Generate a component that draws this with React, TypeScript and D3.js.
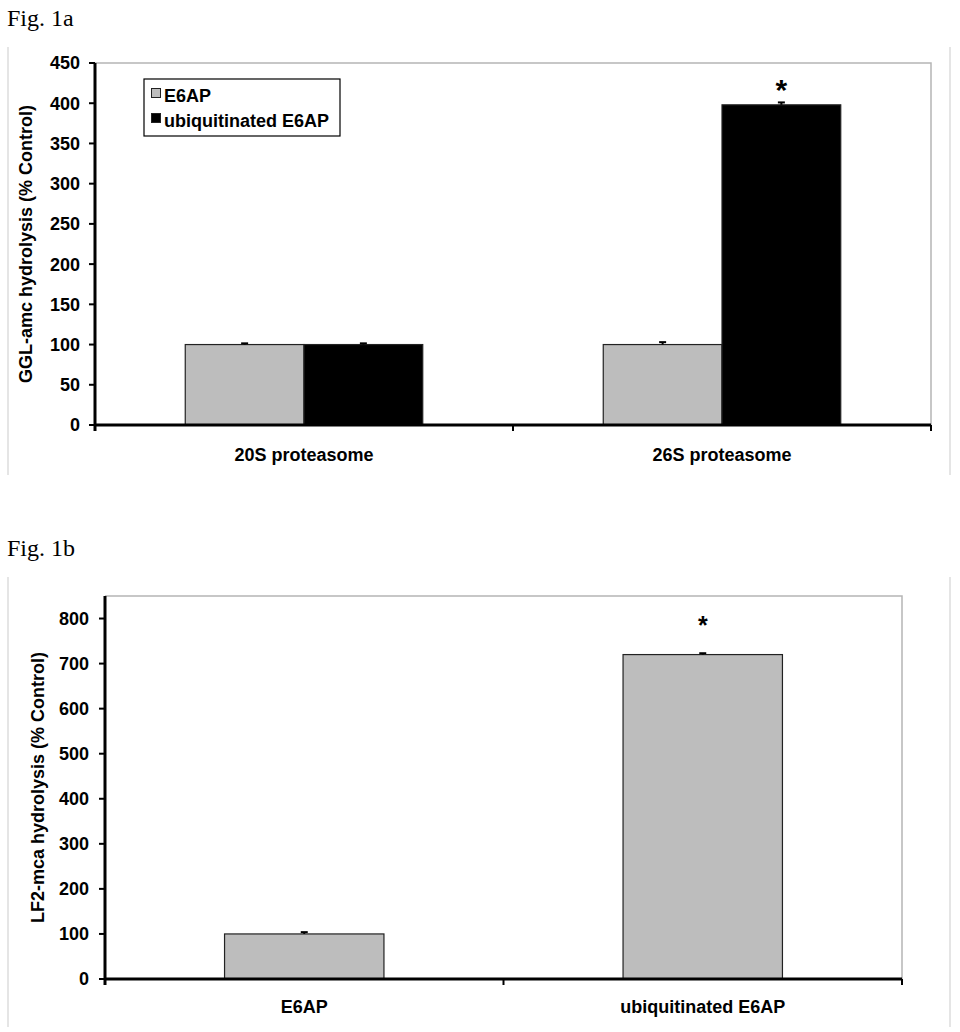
import { useEffect, useRef } from 'react';
import * as d3 from 'd3';

// Fig. 1a data
const categoriesA = ['20S proteasome', '26S proteasome'];
const seriesA = ['E6AP', 'ubiquitinated E6AP'];
const e6apValuesA = [100, 100];
const e6apErrorsA = [1.5, 3];
const ubValuesA = [100, 398];
const ubErrorsA = [1.5, 3];
const ubSignificantA = [false, true];
const yTicksA = [0, 50, 100, 150, 200, 250, 300, 350, 400, 450];

// Fig. 1b data
const categoriesB = ['E6AP', 'ubiquitinated E6AP'];
const valuesB = [100, 720];
const errorsB = [4, 3];
const significantB = [false, true];
const yTicksB = [0, 100, 200, 300, 400, 500, 600, 700, 800];

const GREY = '#bdbdbd';
const FONT = "'Liberation Sans', Arial, sans-serif";

function App() {
  const svgRef = useRef(null);

  useEffect(() => {
    const svg = d3.select(svgRef.current);
    svg.selectAll('*').remove();

    const drawFrame = (title, titleY, frameTop, frameBottom) => {
      svg.append('text')
        .attr('x', 7)
        .attr('y', titleY)
        .attr('font-family', "'Liberation Serif', 'Times New Roman', serif")
        .attr('font-size', '24px')
        .attr('fill', '#000')
        .text(title);
      [8, 950].forEach(x => {
        svg.append('line')
          .attr('x1', x).attr('x2', x)
          .attr('y1', frameTop).attr('y2', frameBottom)
          .attr('stroke', '#d4d4d4')
          .attr('stroke-width', 1.2);
      });
    };

    const drawAxes = (g, x0, x1, y, yTop, ticks, yLabel, yLabelX, tickLabelX) => {
      const base = y(0);
      // plot area border (top + right)
      g.append('path')
        .attr('d', `M${x0},${yTop}H${x1}V${base}`)
        .attr('fill', 'none')
        .attr('stroke', '#b5b5b5')
        .attr('stroke-width', 1.5);

      ticks.forEach(t => {
        g.append('line')
          .attr('x1', x0 - 6).attr('x2', x0)
          .attr('y1', y(t)).attr('y2', y(t))
          .attr('stroke', '#000').attr('stroke-width', 2);
        g.append('text')
          .attr('x', tickLabelX)
          .attr('y', y(t))
          .attr('dy', '0.36em')
          .attr('text-anchor', 'end')
          .attr('font-family', FONT)
          .attr('font-weight', 'bold')
          .attr('font-size', '18px')
          .text(t);
      });

      g.append('text')
        .attr('transform', `translate(${yLabelX},${(yTop + base) / 2}) rotate(-90)`)
        .attr('text-anchor', 'middle')
        .attr('dy', '0.36em')
        .attr('font-family', FONT)
        .attr('font-weight', 'bold')
        .attr('font-size', '18px')
        .text(yLabel);

      return base;
    };

    const drawXAxis = (g, bounds, centers, labels, x0, x1, base, labelY) => {
      g.append('line')
        .attr('x1', x0).attr('x2', x1)
        .attr('y1', base).attr('y2', base)
        .attr('stroke', '#000').attr('stroke-width', 3);
      bounds.forEach(bx => {
        g.append('line')
          .attr('x1', bx).attr('x2', bx)
          .attr('y1', base).attr('y2', base + 6)
          .attr('stroke', '#000').attr('stroke-width', 2);
      });
      labels.forEach((c, i) => {
        g.append('text')
          .attr('x', centers[i])
          .attr('y', labelY)
          .attr('text-anchor', 'middle')
          .attr('font-family', FONT)
          .attr('font-weight', 'bold')
          .attr('font-size', '18px')
          .text(c);
      });
    };

    const drawBar = (g, x, w, y, v, err, fill) => {
      g.append('rect')
        .attr('x', x).attr('y', y(v))
        .attr('width', w).attr('height', y(0) - y(v))
        .attr('fill', fill)
        .attr('stroke', '#222')
        .attr('stroke-width', 1.2);
      const cx = x + w / 2;
      g.append('line')
        .attr('x1', cx).attr('x2', cx)
        .attr('y1', y(v)).attr('y2', y(v + err))
        .attr('stroke', '#000').attr('stroke-width', 2);
      g.append('line')
        .attr('x1', cx - 3.5).attr('x2', cx + 3.5)
        .attr('y1', y(v + err)).attr('y2', y(v + err))
        .attr('stroke', '#000').attr('stroke-width', 2);
    };

    const drawStar = (g, cx, yBase, size) => {
      g.append('text')
        .attr('x', cx)
        .attr('y', yBase)
        .attr('text-anchor', 'middle')
        .attr('font-family', FONT)
        .attr('font-weight', 'bold')
        .attr('font-size', size)
        .text('*');
    };

    const drawYLine = (g, x, top, base) => {
      g.append('line')
        .attr('x1', x).attr('x2', x)
        .attr('y1', top).attr('y2', base + 6)
        .attr('stroke', '#000').attr('stroke-width', 3);
    };

    // ---------- Fig. 1a ----------
    drawFrame('Fig. 1a', 26, 47, 475);
    const gA = svg.append('g');
    const leftA = 95, rightA = 931, topA = 63;
    const yA = d3.scaleLinear().domain([0, 450]).range([425, topA]);
    const x0A = d3.scaleBand().domain(categoriesA).range([leftA, rightA]);
    const x1A = d3.scaleBand().domain(seriesA).range([0, x0A.bandwidth()]).paddingOuter(0.76);

    const baseA = drawAxes(gA, leftA, rightA, yA, topA, yTicksA, 'GGL-amc hydrolysis (% Control)', 26, 80);

    categoriesA.forEach((c, i) => {
      drawBar(gA, x0A(c) + x1A(seriesA[0]), x1A.bandwidth(), yA, e6apValuesA[i], e6apErrorsA[i], GREY);
      drawBar(gA, x0A(c) + x1A(seriesA[1]), x1A.bandwidth(), yA, ubValuesA[i], ubErrorsA[i], '#000');
      if (ubSignificantA[i]) {
        drawStar(gA, x0A(c) + x1A(seriesA[1]) + x1A.bandwidth() / 2, yA(ubValuesA[i]) - 5, '30px');
      }
    });

    drawXAxis(
      gA,
      categoriesA.map(c => x0A(c)).concat([rightA]),
      categoriesA.map(c => x0A(c) + x0A.bandwidth() / 2),
      categoriesA, leftA, rightA, baseA, 461
    );
    drawYLine(gA, leftA, topA, baseA);

    // legend
    const legend = gA.append('g');
    legend.append('rect')
      .attr('x', 144).attr('y', 79)
      .attr('width', 196).attr('height', 57)
      .attr('fill', '#fff')
      .attr('stroke', '#000')
      .attr('stroke-width', 1.2);
    seriesA.forEach((s, i) => {
      legend.append('rect')
        .attr('x', 151.5).attr('y', 88.5 + i * 25)
        .attr('width', 9).attr('height', 9)
        .attr('fill', i === 0 ? GREY : '#000')
        .attr('stroke', '#222')
        .attr('stroke-width', 1);
      legend.append('text')
        .attr('x', 164)
        .attr('y', 102 + i * 25)
        .attr('font-family', FONT)
        .attr('font-weight', 'bold')
        .attr('font-size', '18px')
        .text(s);
    });

    // ---------- Fig. 1b ----------
    drawFrame('Fig. 1b', 556, 577, 1027);
    const gB = svg.append('g');
    const leftB = 105, rightB = 902, topB = 596;
    const yB = d3.scaleLinear().domain([0, 850]).range([979, topB]);
    const xB = d3.scaleBand().domain(categoriesB).range([leftB, rightB]).paddingInner(0.6).paddingOuter(0.3);

    const baseB = drawAxes(gB, leftB, rightB, yB, topB, yTicksB, 'LF2-mca hydrolysis (% Control)', 38, 89);

    categoriesB.forEach((c, i) => {
      drawBar(gB, xB(c), xB.bandwidth(), yB, valuesB[i], errorsB[i], GREY);
      if (significantB[i]) {
        drawStar(gB, xB(c) + xB.bandwidth() / 2, yB(valuesB[i]) - 21, '25px');
      }
    });
    drawXAxis(
      gB,
      categoriesB.map(c => xB(c) - xB.step() * xB.paddingOuter()).concat([rightB]),
      categoriesB.map(c => xB(c) + xB.bandwidth() / 2),
      categoriesB, leftB, rightB, baseB, 1013
    );
    drawYLine(gB, leftB, topB, baseB);
  }, []);

  return (
    <svg
      ref={svgRef}
      width={960}
      height={1032}
      style={{ position: 'absolute', left: 0, top: 0, background: '#fff' }}
    />
  );
}

export default App;
